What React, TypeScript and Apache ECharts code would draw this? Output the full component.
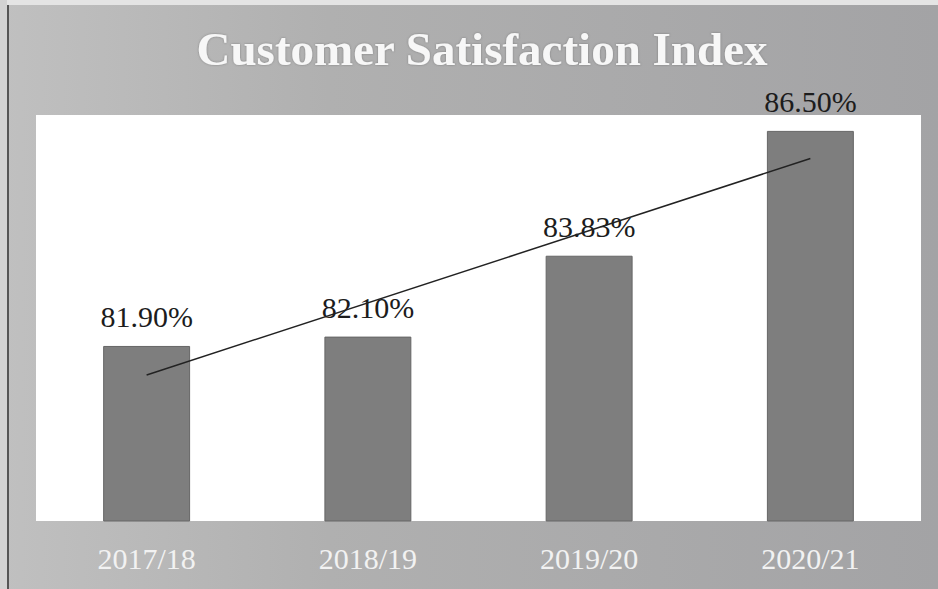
import React, { useEffect, useRef } from "react";
import * as echarts from "echarts";

const categories = ["2017/18", "2018/19", "2019/20", "2020/21"];
const satisfaction = [81.9, 82.1, 83.83, 86.5];
// trend line end points (first and last category)
const trendStart = 81.28;
const trendEnd = 85.91;
const titleText = "Customer Satisfaction Index";

export default function App() {
  const ref = useRef<HTMLDivElement>(null);
  useEffect(() => {
    document.body.style.margin = "0";
    if (!ref.current) return;
    const chart = echarts.init(ref.current, null, { renderer: "svg" });
    const trend = categories.map((_, i) =>
      i === 0 ? trendStart : i === categories.length - 1 ? trendEnd : null
    );
    chart.setOption({
      animation: false,
      backgroundColor: {
        type: "linear",
        x: 0,
        y: 0,
        x2: 1,
        y2: 0,
        colorStops: [
          { offset: 0, color: "#c0c0c0" },
          { offset: 0.35, color: "#b0b0b0" },
          { offset: 1, color: "#a3a3a5" },
        ],
      },
      title: {
        text: titleText,
        left: 477,
        top: 20,
        textAlign: "center",
        textStyle: {
          fontFamily: "Liberation Serif",
          fontWeight: "bold",
          fontSize: 47,
          color: "#f7f7f7",
          textShadowColor: "rgba(80,80,80,0.5)",
          textShadowBlur: 2,
        },
      },
      graphic: [
        {
          type: "rect",
          shape: { x: 0, y: 0, width: 938, height: 5 },
          style: { fill: "#e4e4e4" },
          silent: true,
        },
        {
          type: "rect",
          shape: { x: 0, y: 0, width: 7, height: 589 },
          style: { fill: "#d2d2d2" },
          silent: true,
        },
        {
          type: "line",
          shape: { x1: 8, y1: 5, x2: 8, y2: 589 },
          style: { stroke: "#555", lineWidth: 2 },
          silent: true,
        },
      ],
      grid: {
        left: 36,
        right: 17,
        top: 115,
        bottom: 68,
        show: true,
        backgroundColor: "#ffffff",
        borderWidth: 0,
      },
      xAxis: {
        type: "category",
        data: categories,
        axisLine: { show: false },
        axisTick: { show: false },
        axisLabel: {
          margin: 22,
          fontFamily: "Liberation Serif",
          fontSize: 30,
          color: "#f2f2f2",
        },
      },
      yAxis: {
        type: "value",
        min: 78.156,
        max: 86.84,
        show: false,
        splitLine: { show: false },
      },
      series: [
        {
          type: "bar",
          data: satisfaction,
          barWidth: "39.3%",
          itemStyle: {
            color: "#7e7e7e",
            borderColor: "#666666",
            borderWidth: 1,
          },
          label: {
            show: true,
            position: "top",
            distance: 14,
            fontFamily: "Liberation Serif",
            fontSize: 30,
            color: "#1c1c1c",
            formatter: (p: any) => p.value.toFixed(2) + "%",
          },
        },
        {
          type: "line",
          data: trend,
          connectNulls: true,
          showSymbol: false,
          symbol: "none",
          lineStyle: { color: "#222222", width: 1.5 },
          z: 5,
        },
      ],
    });
    return () => chart.dispose();
  }, []);
  return <div ref={ref} style={{ width: 938, height: 589 }} />;
}
